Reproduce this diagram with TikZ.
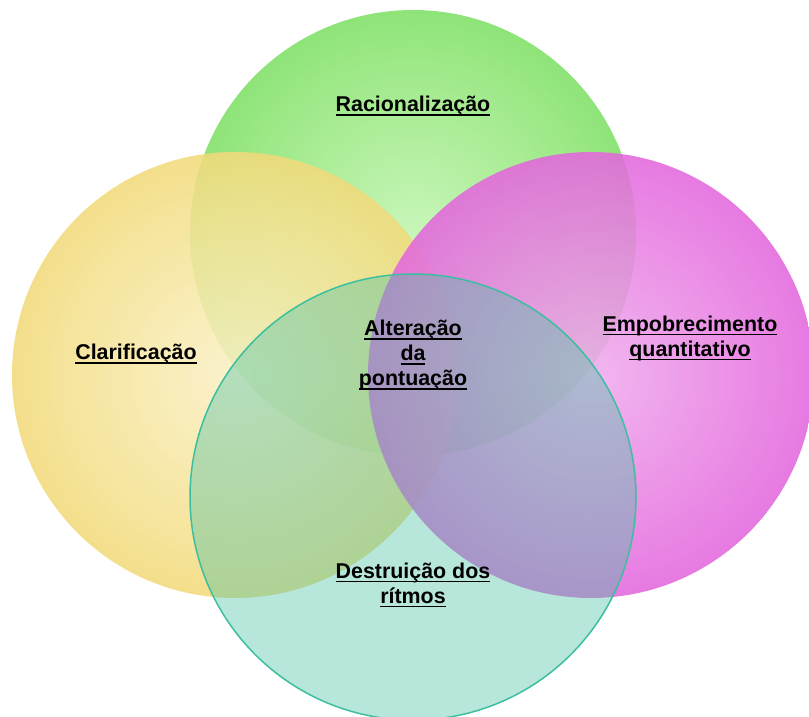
\documentclass[tikz,border=0pt]{standalone}
\usepackage{fontspec}
\setmainfont{Liberation Sans}

% underline drawn as a rule of the text's width, a fixed depth below the baseline
\newlength\ulw
\newcommand\uln[1]{\settowidth{\ulw}{#1}\rlap{\rule[-4pt]{\ulw}{1.4pt}}#1}

\definecolor{gin}{RGB}{200,246,185}
\definecolor{gmid}{RGB}{156,232,134}
\definecolor{gout}{RGB}{100,214,80}
\definecolor{yin}{RGB}{250,240,198}
\definecolor{ymid}{RGB}{244,224,140}
\definecolor{yout}{RGB}{232,200,70}
\definecolor{min}{RGB}{240,172,238}
\definecolor{mmid}{RGB}{230,118,224}
\definecolor{mout}{RGB}{218,60,212}
\definecolor{tealfill}{RGB}{75,192,165}
\definecolor{tealline}{RGB}{60,190,160}

% radial fills that run from the inner colour at the centre to the outer colour near the rim
\pgfdeclareradialshading{greenfill}{\pgfpoint{0bp}{0bp}}{color(0bp)=(gin); color(20bp)=(gmid); color(40bp)=(gout); color(50bp)=(gout)}
\pgfdeclareradialshading{yellowfill}{\pgfpoint{0bp}{0bp}}{color(0bp)=(yin); color(20bp)=(ymid); color(40bp)=(yout); color(50bp)=(yout)}
\pgfdeclareradialshading{magentafill}{\pgfpoint{0bp}{0bp}}{color(0bp)=(min); color(20bp)=(mmid); color(40bp)=(mout); color(50bp)=(mout)}

\tikzset{
  setlabel/.style={font=\fontsize{21.4}{25}\selectfont\bfseries, align=center, text=black, inner sep=0pt},
  ball/.style={fill opacity=0.88}
}

\begin{document}
\begin{tikzpicture}[x=1pt,y=-1pt]
  \useasboundingbox (0,0) rectangle (809,717);
  \begin{scope}
    \clip (0,0) rectangle (809,717);
    % top circle
    \shade[shading=greenfill] (413,233) circle (223);
    % left circle
    \shade[shading=yellowfill, ball] (235,375) circle (223);
    % right circle
    \shade[shading=magentafill, ball] (591,375) circle (223);
    % bottom circle, translucent with an outline
    \fill[tealfill, fill opacity=0.4] (413,497) circle (223);
    \draw[tealline, line width=1.5pt] (413,497) circle (223);
  \end{scope}

  \node[setlabel] (rac) at (413,106) {\uln{Racionalização}};
  \node[setlabel] (cla) at (136,354) {\uln{Clarificação}};
  \node[setlabel] (emp) at (690,338) {\uln{Empobrecimento}\\\uln{quantitativo}};
  \node[setlabel] (alt) at (413,355) {\uln{Alteração}\\\uln{da}\\\uln{pontuação}};
  \node[setlabel] (des) at (413,585) {\uln{Destruição dos}\\\uln{rítmos}};
\end{tikzpicture}
\end{document}
